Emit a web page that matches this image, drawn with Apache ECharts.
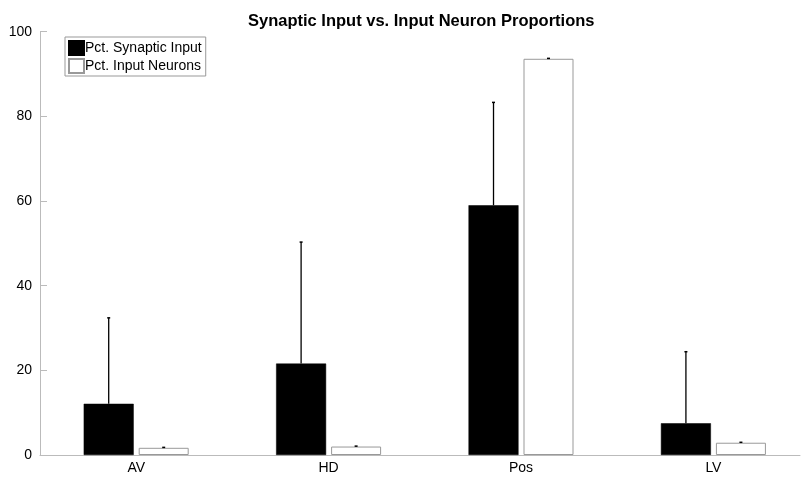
<!DOCTYPE html>
<html><head><meta charset="utf-8">
<script src="https://cdn.jsdelivr.net/npm/echarts@6/dist/echarts.min.js"></script>
<style>html,body{margin:0;padding:0;background:#fff}#c{width:801px;height:477px}</style>
</head><body><div id="c"></div>
<script>
var categories = ['AV', 'HD', 'Pos', 'LV'];
var synapticInput = [12.1, 21.6, 59.0, 7.5];
var synapticErrTop = [32.4, 50.3, 83.3, 24.4];
var inputNeurons = [1.7, 2.0, 93.6, 2.9];
var neuronsErrTop = [1.8, 2.1, 93.7, 3.0];
var yTicks = [0, 20, 40, 60, 80, 100];

var BAR_W = 50, GAP = 5;
var font = '"Liberation Sans", Arial, Helvetica, sans-serif';

function pos(i) { return i + 1; }

function errSeries(name, bars, tops, side) {
  return {
    type: 'custom', name: name + ' err', silent: true, z: 5,
    data: categories.map(function (c, i) { return [pos(i), bars[i], tops[i]]; }),
    renderItem: function (params, api) {
      var off = side * (BAR_W + GAP) / 2;
      var p0 = api.coord([api.value(0), api.value(1)]);
      var p1 = api.coord([api.value(0), api.value(2)]);
      var x = p0[0] + off;
      return { type: 'group', children: [
        { type: 'line', shape: { x1: x, y1: p0[1], x2: x, y2: p1[1] }, style: { stroke: '#000', lineWidth: 1.3 } },
        { type: 'line', shape: { x1: x - 1.5, y1: p1[1], x2: x + 1.5, y2: p1[1] }, style: { stroke: '#000', lineWidth: 1.5 } }
      ]};
    }
  };
}

var chart = echarts.init(document.getElementById('c'), null, { renderer: 'canvas' });
chart.setOption({
  animation: false,
  backgroundColor: '#fff',
  textStyle: { fontFamily: font },
  title: { text: 'Synaptic Input vs. Input Neuron Proportions', left: 243, top: 8,
    textStyle: { fontFamily: font, fontSize: 16.5, fontWeight: 'bold', color: '#000' } },
  legend: {
    orient: 'vertical', left: 65, top: 37, padding: [3, 4, 2, 3], itemGap: 2,
    itemWidth: 15, itemHeight: 14, borderColor: '#999', borderWidth: 1, borderRadius: 0,
    backgroundColor: '#fff', icon: 'rect',
    data: ['Pct. Synaptic Input', 'Pct. Input Neurons'],
    textStyle: { fontFamily: font, fontSize: 14, color: '#000', padding: [0, 0, 0, -4] }
  },
  grid: { left: 40, top: 31.7, right: 1, bottom: 22 },
  xAxis: {
    type: 'value', min: 0.5, max: 4.45,
    axisLine: { show: true, onZero: false, lineStyle: { color: '#bbb', width: 1 } },
    axisTick: { show: false },
    splitLine: { show: false },
    axisLabel: { fontFamily: font, fontSize: 14, color: '#000', margin: 6,
      customValues: categories.map(function (c, i) { return pos(i); }),
      formatter: function (v) { return categories[Math.round(v) - 1] || ''; } }
  },
  yAxis: {
    type: 'value', min: 0, max: 100, interval: 20,
    axisLine: { show: true, lineStyle: { color: '#bbb', width: 1 } },
    axisTick: { show: true, inside: true, length: 7, lineStyle: { color: '#bbb' } },
    splitLine: { show: false },
    axisLabel: { fontFamily: font, fontSize: 14, color: '#000', margin: 8,
      formatter: function (v) { return yTicks.indexOf(v) >= 0 ? String(v) : ''; } }
  },
  series: [
    { name: 'Pct. Synaptic Input', type: 'bar', data: synapticInput.map(function (v, i) { return [pos(i), v]; }),
      barWidth: BAR_W, barGap: (GAP / BAR_W * 100) + '%',
      itemStyle: { color: '#000', borderColor: '#000', borderWidth: 0.5 } },
    { name: 'Pct. Input Neurons', type: 'bar', data: inputNeurons.map(function (v, i) { return [pos(i), v]; }),
      barWidth: BAR_W,
      itemStyle: { color: '#fff', borderColor: '#999', borderWidth: 1 } },
    errSeries('Pct. Synaptic Input', synapticInput, synapticErrTop, -1),
    errSeries('Pct. Input Neurons', inputNeurons, neuronsErrTop, 1)
  ]
});
</script></body></html>
